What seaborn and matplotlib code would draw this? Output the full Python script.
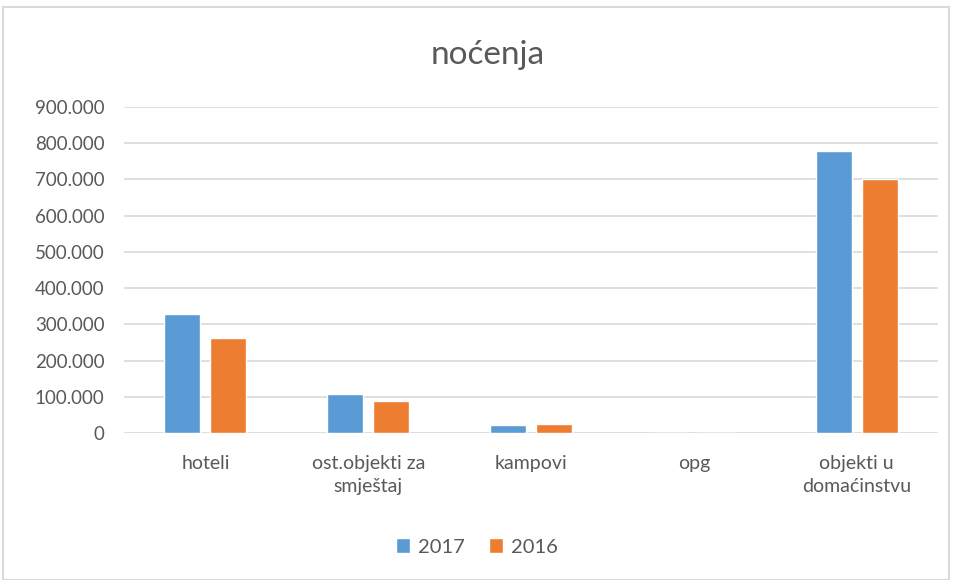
import matplotlib
matplotlib.use("Agg")
import matplotlib.pyplot as plt
import matplotlib.ticker as mticker
from matplotlib.patches import Rectangle
import seaborn as sns
import pandas as pd

categories = ["hoteli", "ost.objekti za\nsmještaj", "kampovi", "opg", "objekti u\ndomaćinstvu"]
series_names = ["2017", "2016"]
values_2017 = [329000, 107000, 22000, 1000, 779000]
values_2016 = [261000, 89000, 25000, 800, 701000]
yticks = [0, 100000, 200000, 300000, 400000, 500000, 600000, 700000, 800000, 900000]

df = pd.DataFrame({
    "cat": categories * 2,
    "year": [series_names[0]] * len(categories) + [series_names[1]] * len(categories),
    "val": values_2017 + values_2016,
})

sns.set_theme(style="white")
plt.rcParams['font.family'] = ['Lato', 'DejaVu Sans']

grey = "#595959"
fig = plt.figure(figsize=(9.54, 5.8), dpi=100)
ax = fig.add_axes([124/954, 1-433/580, (938-124)/954, (433-107)/580])

sns.barplot(data=df, x="cat", y="val", hue="year", order=categories,
            hue_order=series_names, palette=["#5B9BD5", "#ED7D31"], saturation=1,
            width=0.565, gap=0.217, ax=ax, legend=True, zorder=3)

ax.set_ylim(0, 900000)
ax.set_xlim(-0.5, len(categories) - 0.5)
ax.set_yticks(yticks)
ax.yaxis.set_major_formatter(mticker.FuncFormatter(lambda v, p: f"{int(v):,}".replace(",", ".")))
ax.grid(axis="y", color="#d9d9d9", linewidth=1.2, zorder=0)
ax.set_axisbelow(True)
for s in ax.spines.values():
    s.set_visible(False)
ax.tick_params(axis="y", length=0, pad=14, labelsize=13.5, labelcolor=grey)
ax.tick_params(axis="x", length=0, pad=16, labelsize=14, labelcolor=grey)
for t in ax.get_xticklabels():
    t.set_linespacing(1.4)
ax.set_xlabel("")
ax.set_ylabel("")

fig.text(0.511, 1-55/580, "noćenja", ha="center", va="center", fontsize=24, color=grey)

leg = ax.legend(loc="center", bbox_to_anchor=(0.5, 1-547/580), bbox_transform=fig.transFigure,
                ncol=2, frameon=False, fontsize=14.5, handlelength=0.7, handleheight=0.7,
                handletextpad=0.4, columnspacing=1.2)
for t in leg.get_texts():
    t.set_color(grey)

fig.patches.append(Rectangle((3/954, 0), 946/954, 1-7/580, transform=fig.transFigure,
                             fill=False, edgecolor="#d9d9d9", linewidth=1.5))

fig.savefig("out.png", dpi=100, facecolor="white")
